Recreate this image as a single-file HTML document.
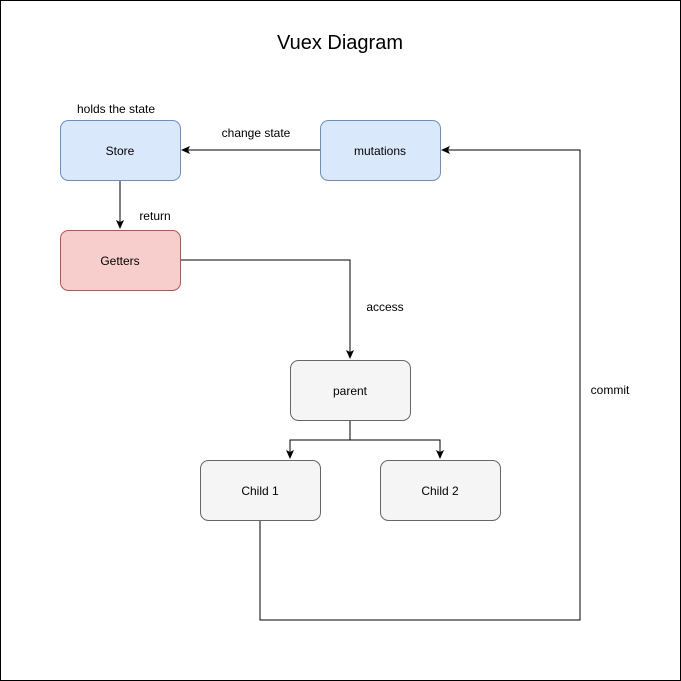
<!DOCTYPE html>
<html><head><style>body{margin:0;background:#fff}svg{display:block}</style></head>
<body>
<svg width="681" height="681" viewBox="0 0 681 681" xmlns="http://www.w3.org/2000/svg" font-family="Liberation Sans, Helvetica, sans-serif">
<defs><marker id="a" markerWidth="10" markerHeight="10" refX="8" refY="5" orient="auto" markerUnits="userSpaceOnUse"><path d="M0,1 L9,5 L0,9 L2,5 Z" fill="#000"/></marker></defs>
<rect x="0.5" y="0.5" width="680" height="680" fill="#fff" stroke="#000"/>
<text x="340" y="49" font-size="20" text-anchor="middle">Vuex Diagram</text>
<g fill="none" stroke="#000" stroke-width="1">
<path d="M320,150 H182" marker-end="url(#a)"/>
<path d="M120,180 V228" marker-end="url(#a)"/>
<path d="M180,260 H350 V358" marker-end="url(#a)"/>
<path d="M350,420 V440 H290 V458" marker-end="url(#a)"/>
<path d="M350,440 H440 V458" marker-end="url(#a)"/>
<path d="M260,520 V620 H580 V150 H442" marker-end="url(#a)"/>
</g>
<rect x="60.5" y="120.5" width="120" height="60" rx="8" fill="#dae8fc" stroke="#6c8ebf"/>
<rect x="320.5" y="120.5" width="120" height="60" rx="8" fill="#dae8fc" stroke="#6c8ebf"/>
<rect x="60.5" y="230.5" width="120" height="60" rx="8" fill="#f8cecc" stroke="#b85450"/>
<rect x="290.5" y="360.5" width="120" height="60" rx="8" fill="#f5f5f5" stroke="#666"/>
<rect x="200.5" y="460.5" width="120" height="60" rx="8" fill="#f5f5f5" stroke="#666"/>
<rect x="380.5" y="460.5" width="120" height="60" rx="8" fill="#f5f5f5" stroke="#666"/>
<g font-size="12" text-anchor="middle" fill="#000">
<text x="120" y="155">Store</text>
<text x="380" y="155">mutations</text>
<text x="120" y="265">Getters</text>
<text x="350" y="395">parent</text>
<text x="260" y="495">Child 1</text>
<text x="440" y="495">Child 2</text>
<text x="116" y="113">holds the state</text>
<text x="256" y="137">change state</text>
<text x="155" y="220">return</text>
<text x="385" y="311">access</text>
<text x="610" y="394">commit</text>
</g>
</svg>
</body></html>
